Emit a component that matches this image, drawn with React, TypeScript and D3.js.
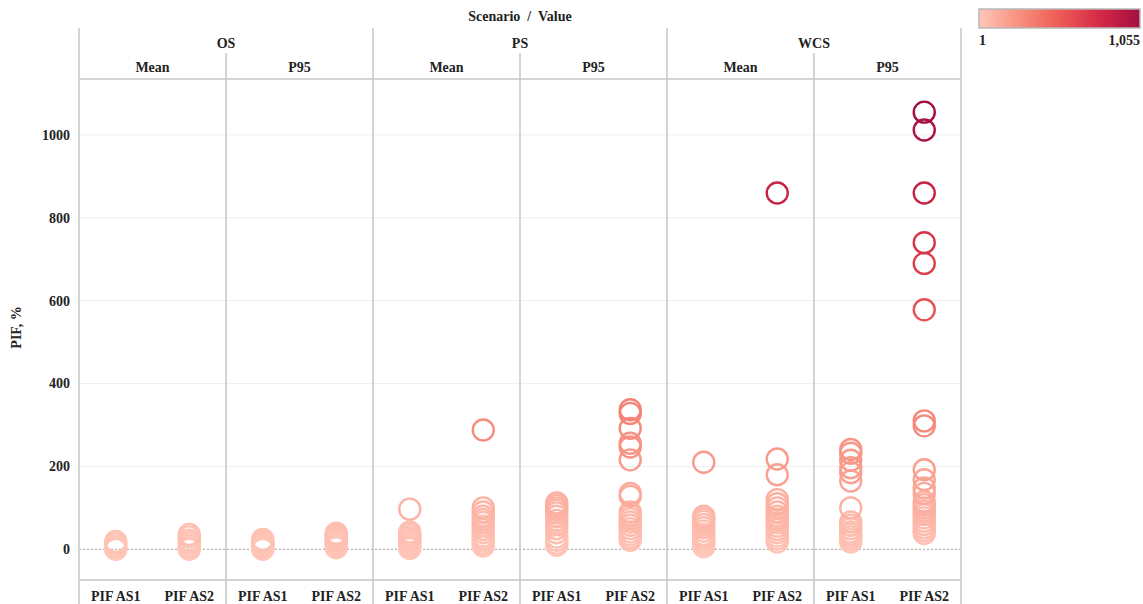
import React from "react";
import * as d3 from "d3";

// Facet structure
const scenarios = ["OS", "PS", "WCS"];
const stats = ["Mean", "P95"];
const groups = ["PIF AS1", "PIF AS2"];
const yTicks = [0, 200, 400, 600, 800, 1000];

// PIF, % values per scenario / statistic / group
const osMeanAS1 = [0, 5, 8, 14, 19];
const osMeanAS2 = [0, 4, 10, 16, 22, 30, 36];
const osP95AS1 = [0, 3, 6, 9, 12, 16, 20, 24];
const osP95AS2 = [4, 8, 12, 16, 20, 24, 28, 32, 36, 39];
const psMeanAS1 = [2, 6, 10, 15, 20, 25, 30, 36, 42, 97];
const psMeanAS2 = [8, 14, 20, 26, 32, 40, 48, 56, 65, 72, 80, 90, 100, 288];
const psP95AS1 = [10, 15, 22, 30, 40, 50, 60, 70, 80, 88, 95, 100, 106, 112];
const psP95AS2 = [22, 28, 35, 42, 50, 58, 66, 74, 82, 90, 128, 135, 216, 247, 256, 292, 328, 337];
const wcsMeanAS1 = [6, 12, 18, 24, 30, 36, 44, 52, 60, 68, 74, 80, 210];
const wcsMeanAS2 = [18, 25, 32, 40, 48, 56, 64, 72, 80, 90, 100, 110, 120, 180, 218, 860];
const wcsP95AS1 = [18, 24, 30, 36, 42, 50, 58, 66, 100, 165, 185, 197, 215, 232, 241];
const wcsP95AS2 = [38, 45, 52, 60, 68, 76, 84, 92, 100, 108, 115, 135, 148, 168, 192, 298, 310, 578, 690, 740, 860, 1012, 1055];

const colorMin = 1;
const colorMax = 1055;
const colorStops = ["#FFC6B9", "#F8907E", "#EE5B56", "#D42A46", "#A30E40"];

const series: { scenario: string; stat: string; group: string; values: number[] }[] = [
  { scenario: "OS", stat: "Mean", group: "PIF AS1", values: osMeanAS1 },
  { scenario: "OS", stat: "Mean", group: "PIF AS2", values: osMeanAS2 },
  { scenario: "OS", stat: "P95", group: "PIF AS1", values: osP95AS1 },
  { scenario: "OS", stat: "P95", group: "PIF AS2", values: osP95AS2 },
  { scenario: "PS", stat: "Mean", group: "PIF AS1", values: psMeanAS1 },
  { scenario: "PS", stat: "Mean", group: "PIF AS2", values: psMeanAS2 },
  { scenario: "PS", stat: "P95", group: "PIF AS1", values: psP95AS1 },
  { scenario: "PS", stat: "P95", group: "PIF AS2", values: psP95AS2 },
  { scenario: "WCS", stat: "Mean", group: "PIF AS1", values: wcsMeanAS1 },
  { scenario: "WCS", stat: "Mean", group: "PIF AS2", values: wcsMeanAS2 },
  { scenario: "WCS", stat: "P95", group: "PIF AS1", values: wcsP95AS1 },
  { scenario: "WCS", stat: "P95", group: "PIF AS2", values: wcsP95AS2 },
];

const W = 1143;
const H = 604;
const left = 79;
const right = 961;
const top = 79;
const bottom = 580;
const headTop = 28;
const subTop = 53;

const FONT = "'Liberation Serif', 'Times New Roman', serif";
const LINE = "#c6c6c6";

export default function App() {
  const panels = scenarios.flatMap((s) => stats.map((st) => `${s}|${st}`));
  const xPanel = d3.scaleBand<string>().domain(panels).range([left, right]).padding(0);
  const xScen = d3.scaleBand<string>().domain(scenarios).range([left, right]).padding(0);
  const pw = xPanel.bandwidth();
  const xGroup = d3.scalePoint<string>().domain(groups).range([0, pw]).padding(0.5);
  const y = d3.scaleLinear().domain([-74, 1135]).range([bottom, top]);
  const color = d3
    .scaleSequential(d3.interpolateRgbBasis(colorStops))
    .domain([colorMin, colorMax]);

  const points = series
    .flatMap((s) =>
      s.values.map((v) => ({
        v,
        cx: (xPanel(`${s.scenario}|${s.stat}`) as number) + (xGroup(s.group) as number),
      }))
    )
    .sort((a, b) => a.v - b.v);

  const legendX = 979;
  const legendW = 161;

  return (
    <svg
      width={W}
      height={H}
      style={{ position: "absolute", left: 0, top: 0, background: "#fff" }}
      fontFamily={FONT}
      fontWeight="bold"
    >
      <defs>
        <linearGradient id="legendGrad" x1="0" x2="1" y1="0" y2="0">
          {colorStops.map((c, i) => (
            <stop key={i} offset={i / (colorStops.length - 1)} stopColor={c} />
          ))}
        </linearGradient>
      </defs>

      {/* gridlines */}
      {yTicks
        .filter((t) => t !== 0)
        .map((t) => (
          <line key={t} x1={left} x2={right} y1={y(t)} y2={y(t)} stroke="#eeeeee" strokeWidth={1} />
        ))}
      <line x1={left} x2={right} y1={y(0)} y2={y(0)} stroke="#a0a0a0" strokeWidth={1} strokeDasharray="2,2" />

      {/* header */}
      <text x={(left + right) / 2} y={21} textAnchor="middle" fontSize={14} fill="#222" style={{ whiteSpace: "pre" }}>
        {"Scenario  /  Value"}
      </text>
      {scenarios.map((s) => (
        <text key={s} x={(xScen(s) as number) + xScen.bandwidth() / 2} y={48} textAnchor="middle" fontSize={14} fill="#222">
          {s}
        </text>
      ))}
      {panels.map((p) => (
        <text key={p} x={(xPanel(p) as number) + pw / 2} y={72} textAnchor="middle" fontSize={14} fill="#222">
          {p.split("|")[1]}
        </text>
      ))}

      {/* frame lines */}
      {[...scenarios.map((s) => xScen(s) as number), right].map((x, i) => (
        <line key={"s" + i} x1={x} x2={x} y1={headTop} y2={H} stroke={LINE} strokeWidth={1.5} />
      ))}
      {panels
        .filter((p) => p.endsWith("P95"))
        .map((p) => (
          <line key={"p" + p} x1={xPanel(p) as number} x2={xPanel(p) as number} y1={subTop} y2={H} stroke={LINE} strokeWidth={1.5} />
        ))}
      <line x1={left} x2={right} y1={top} y2={top} stroke={LINE} strokeWidth={1.5} />
      <line x1={left} x2={right} y1={bottom} y2={bottom} stroke={LINE} strokeWidth={1.5} />

      {/* marks */}
      {points.map((d, i) => (
        <circle key={i} cx={d.cx} cy={y(d.v)} r={10.5} fill="none" stroke={color(d.v)} strokeWidth={2.4} />
      ))}

      {/* y axis */}
      {yTicks.map((t) => (
        <text key={t} x={70} y={y(t)} dy="0.35em" textAnchor="end" fontSize={14} fill="#222">
          {t}
        </text>
      ))}
      <text transform={`translate(21,${(top + bottom) / 2 - 2}) rotate(-90)`} textAnchor="middle" fontSize={14} fill="#222">
        PIF, %
      </text>

      {/* bottom group labels */}
      {panels.flatMap((p) =>
        groups.map((g) => (
          <text
            key={p + g}
            x={(xPanel(p) as number) + (xGroup(g) as number)}
            y={601}
            textAnchor="middle"
            fontSize={14}
            fill="#222"
          >
            {g}
          </text>
        ))
      )}

      {/* color legend */}
      <rect x={legendX} y={9} width={legendW} height={19} fill="url(#legendGrad)" stroke="#b8b8b8" strokeWidth={1.5} />
      <text x={legendX} y={45} fontSize={14} fill="#222">
        {d3.format(",")(colorMin)}
      </text>
      <text x={legendX + legendW} y={45} textAnchor="end" fontSize={14} fill="#222">
        {d3.format(",")(colorMax)}
      </text>
    </svg>
  );
}
